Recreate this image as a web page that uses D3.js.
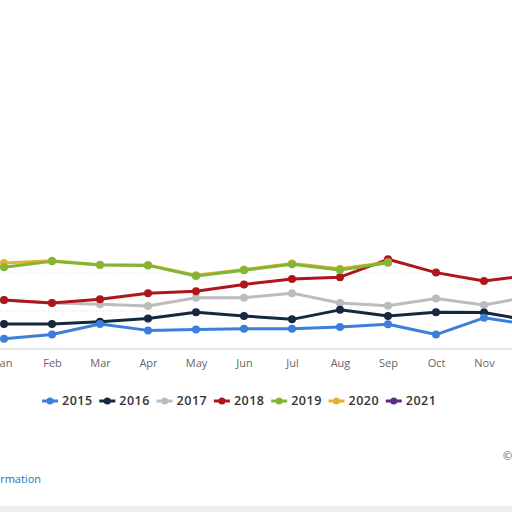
<!DOCTYPE html>
<html><head><meta charset="utf-8">
<script src="https://cdn.jsdelivr.net/npm/d3@7"></script>
<style>body{margin:0;background:#fff;overflow:hidden}svg{display:block}</style>
</head><body><svg id="c" width="512" height="512"></svg>
<script>
const months=["Jan","Feb","Mar","Apr","May","Jun","Jul","Aug","Sep","Oct","Nov","Dec"];
const years=["2015","2016","2017","2018","2019","2020","2021"];
const colors=["#3b7fdb","#14283e","#bcbcbc","#b0151b","#82b535","#e8b030","#5a2d82"];
const yTicks=[0,10,20];
const s2015=[2.7,3.8,6.6,4.9,5.1,5.3,5.3,5.8,6.5,3.8,8.2,6.3];
const s2016=[6.6,6.6,7.2,8.0,9.7,8.7,7.8,10.3,8.7,9.7,9.6,7.4];
const s2017=[12.8,12.1,11.8,11.3,13.5,13.5,14.7,12.1,11.4,13.3,11.6,13.9];
const s2018=[12.9,12.1,13.1,14.7,15.2,17.0,18.4,18.9,23.6,20.1,17.9,19.5];
const s2019=[21.5,23.1,22.1,22.0,19.2,20.7,22.3,20.8,22.7,null,null,null];
const s2020=[22.6,23.2,22.2,22.1,19.4,20.9,22.5,21.1,22.8,null,null,null];
const s2021=[];
const series=[s2015,s2016,s2017,s2018,s2019,s2020,s2021];
const drawOrder=[2,1,0,3,5,4,6];

const svg=d3.select("#c");
const x=d3.scalePoint().domain(months).range([4,532]);
const y=d3.scaleLinear().domain([0,30]).range([349,235]);
const g=svg.append("g");
g.selectAll("line.grid").data(yTicks).join("line")
 .attr("x1",0).attr("x2",512).attr("y1",d=>y(d)).attr("y2",d=>y(d))
 .attr("stroke",d=>d===0?"#ccc":"#ddd").attr("stroke-dasharray",d=>d===0?null:"1,2");
const xa=svg.append("g").attr("transform","translate(0,349)")
 .call(d3.axisBottom(x).tickSize(0).tickPadding(10));
xa.select(".domain").remove();
xa.selectAll("text").attr("fill","#666").style("font-family","Open Sans").style("font-size","11px");

const line=d3.line().defined(d=>d!=null).x((d,i)=>x(months[i])).y(d=>y(d));
drawOrder.forEach(k=>{
 const data=series[k]; if(!data.length) return;
 g.append("path").attr("d",line(data)).attr("fill","none").attr("stroke",colors[k]).attr("stroke-width",3).attr("stroke-linejoin","round");
 g.selectAll(null).data(data.map((v,i)=>({v,i})).filter(o=>o.v!=null)).join("circle")
  .attr("cx",o=>x(months[o.i])).attr("cy",o=>y(o.v)).attr("r",4).attr("fill",colors[k]);
});

const lg=svg.append("g").attr("transform","translate(42,401)");
let lx=0;
years.forEach((yr,i)=>{
 const it=lg.append("g").attr("transform",`translate(${lx},0)`);
 it.append("line").attr("x1",0).attr("x2",16).attr("stroke",colors[i]).attr("stroke-width",3);
 it.append("circle").attr("cx",8).attr("r",3.5).attr("fill",colors[i]);
 it.append("text").attr("x",20).attr("dy","0.35em").text(yr)
  .attr("fill","#333").style("font-family","Open Sans").style("font-weight","600").style("font-size","12.5px").style("letter-spacing","0.5px");
 lx+=57.3;
});
svg.append("text").attr("x",503).attr("y",460).text("©").attr("fill","#555").style("font-family","Open Sans").style("font-size","11px");
svg.append("text").attr("x",41).attr("y",483).attr("text-anchor","end").text("Additional Information").attr("fill","#1a73b8").style("font-family","Open Sans").style("font-size","11px");
svg.append("rect").attr("x",0).attr("y",506).attr("width",512).attr("height",6).attr("fill","#ececec");
</script></body></html>
